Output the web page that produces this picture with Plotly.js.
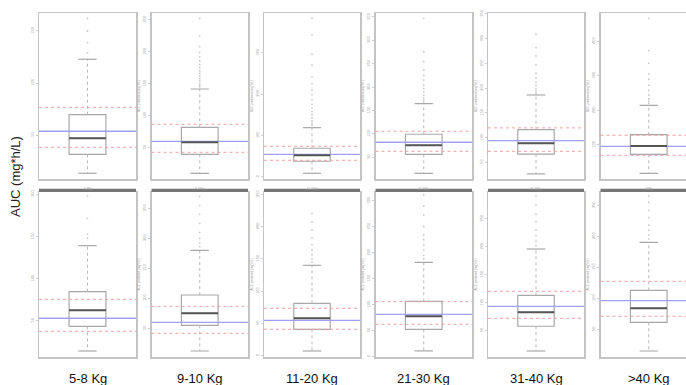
<!DOCTYPE html>
<html>
<head>
<meta charset="utf-8">
<script src="https://cdn.plot.ly/plotly-3.0.1.min.js"></script>
<style>
html,body{margin:0;padding:0;overflow:hidden;background:#fff;}
#chart{width:700px;height:385px;}
</style>
</head>
<body>
<div id="chart"></div>
<script>
// Weight groups (columns)
const groups = ['5-8 Kg', '9-10 Kg', '11-20 Kg', '21-30 Kg', '31-40 Kg', '>40 Kg'];
const stripText = ['5-8Kg', '9-10Kg', '11-20Kg', '21-30Kg', '31-40Kg', '>40Kg'];

// Top row box statistics (AUC, mg*h/L)
const q1Top  = [31.4, 39.7, 37.3, 56.4, 66.4, 73.1];
const medTop = [46.8, 58.4, 51.8, 75.6, 88.3, 97.1];
const q3Top  = [69.5, 81.9, 68.8, 99.2, 115.7, 129.8];
const lwTop  = [13.2, 10.0, 8.2, 15.8, 26.3, 18.2];
const uwTop  = [122.8, 141.7, 118.6, 164.5, 186.1, 214.7];
const redLoTop = [38.2, 42.8, 39.7, 62.8, 71.9, 70.2];
const redHiTop = [76.6, 86.6, 73.6, 105.6, 119.4, 128.0];
const blueTop  = [53.6, 60.0, 54.2, 82.1, 93.8, 96.2];
const outTop = [
  [129, 138.7, 150, 162],
  [145, 148, 151, 155, 158, 162, 166, 170, 175, 180, 186, 192, 199, 208, 224.5, 252],
  [125, 130, 135, 142, 150, 158, 166, 175, 186, 198, 210, 225, 242, 270, 296, 343, 383.5],
  [168, 172, 177, 183, 190, 197, 204.5, 215, 225, 236.6, 255, 275.7, 347],
  [190, 194, 199, 205.7, 212, 220, 230, 247, 265, 281.8, 309],
  [220, 226, 233, 244.5, 258, 273, 290, 305, 336, 372.5, 466]
];
const rangeTop = [[7.7, 167.3], [1.1, 260.5], [-5.6, 396], [3.6, 358.4], [15.9, 352], [1.7, 481.5]];
const dtickTop = [50, 50, 100, 50, 50, 100];

// Bottom row box statistics
const q1Bot  = [43.7, 55.0, 40.9, 52.7, 57.9, 61.3];
const medBot = [62.6, 75.0, 57.9, 77.7, 82.9, 83.9];
const q3Bot  = [84.6, 105.5, 81.1, 106.5, 113.2, 112.9];
const lwBot  = [14.5, 12.2, 7.3, 11.0, 13.7, 15.0];
const uwBot  = [139.0, 180.0, 139.9, 181.5, 195.9, 190.3];
const redLoBot = [37.8, 41.7, 40.9, 62.3, 72.1, 71.0];
const redHiBot = [75.6, 86.7, 73.4, 105.8, 120.4, 127.4];
const blueBot  = [53.2, 60.0, 54.8, 81.5, 93.6, 96.1];
const outBot = [
  [147.8, 152.5, 171.4, 197.7],
  [186, 192, 200, 210, 225, 240, 255, 270],
  [145, 150, 156, 163.6, 172, 182, 194.6, 207, 220.4],
  [188, 195, 205, 215, 225, 234, 250, 272.5, 290, 311],
  [202, 210, 220, 229.9, 245, 257.9, 275, 290.6],
  [196, 202, 210, 218, 230, 242, 255, 265]
];
const rangeBot = [[7.4, 202.5], [2.2, 277.2], [-2, 253.4], [-0.6, 316.7], [3, 297.8], [5.3, 271.5]];
const dtickBot = [50, 50, 50, 50, 50, 50];

// Layout geometry (pixels of a 700x385 canvas)
const W = 700, H = 385;
const colPx = [[39, 136], [151.5, 248], [264, 360], [375.5, 472], [488, 584], [600.5, 697]];
const topPx = [13, 179], botPx = [192, 357];
const boxW = 0.38, capW = 0.19;

const traces = [];
const shapes = [];
const annotations = [];
const layout = {
  width: W, height: H,
  margin: {l: 0, r: 0, t: 0, b: 0},
  paper_bgcolor: '#fff', plot_bgcolor: '#fff',
  showlegend: false,
  font: {family: 'Liberation Sans, Arial, sans-serif'}
};

function addPanel(idx, row, col) {
  const n = idx === 1 ? '' : String(idx);
  const xa = 'x' + n, ya = 'y' + n;
  const top = row === 0;
  const q1 = top ? q1Top : q1Bot, med = top ? medTop : medBot, q3 = top ? q3Top : q3Bot;
  const lw = top ? lwTop : lwBot, uw = top ? uwTop : uwBot;
  const rlo = top ? redLoTop : redLoBot, rhi = top ? redHiTop : redHiBot, bl = top ? blueTop : blueBot;
  const outs = top ? outTop : outBot;
  const rng = top ? rangeTop : rangeBot;
  const dt = top ? dtickTop : dtickBot;
  const ypx = top ? topPx : botPx;

  // whiskers (dotted) from box to fences
  traces.push({
    type: 'scatter', mode: 'lines', xaxis: xa, yaxis: ya,
    x: [0, 0, null, 0, 0], y: [q3[col], uw[col], null, q1[col], lw[col]],
    line: {color: '#b8b8b8', width: 1, dash: 'dot'}, hoverinfo: 'skip'
  });
  // whisker caps
  traces.push({
    type: 'scatter', mode: 'lines', xaxis: xa, yaxis: ya,
    x: [-capW / 2, capW / 2, null, -capW / 2, capW / 2],
    y: [uw[col], uw[col], null, lw[col], lw[col]],
    line: {color: '#a8a8a8', width: 1.2}, hoverinfo: 'skip'
  });
  // outliers
  traces.push({
    type: 'scatter', mode: 'markers', xaxis: xa, yaxis: ya,
    x: outs[col].map(() => 0), y: outs[col],
    marker: {size: 1.8, color: '#c8c8c8'}, hoverinfo: 'y'
  });
  // box body
  traces.push({
    type: 'box', xaxis: xa, yaxis: ya,
    x: [0], q1: [q1[col]], median: [med[col]], q3: [q3[col]],
    lowerfence: [q1[col]], upperfence: [q3[col]],
    boxpoints: false, width: boxW, whiskerwidth: 0,
    fillcolor: 'rgba(255,255,255,0)',
    line: {color: '#a8a8a8', width: 1.2}
  });

  const axKey = 'xaxis' + n, ayKey = 'yaxis' + n;
  layout[axKey] = {
    domain: [colPx[col][0] / W, colPx[col][1] / W],
    anchor: ya, range: [-0.5, 0.5],
    showticklabels: false, ticks: '', showgrid: false, zeroline: false,
    showline: true, mirror: true, linecolor: '#c4c4c4', linewidth: 1.5,
    fixedrange: true
  };
  layout[ayKey] = {
    domain: [1 - ypx[1] / H, 1 - ypx[0] / H],
    anchor: xa, range: rng[col], tick0: 0, dtick: dt[col],
    showgrid: false, zeroline: false,
    showline: true, mirror: true, linecolor: '#c4c4c4', linewidth: 1.5,
    ticks: 'outside', ticklen: 2, tickcolor: '#cfcfcf',
    tickfont: {size: 4, color: '#a0a0a0'}, tickangle: -90,
    title: col === 0 ? {text: ''} : {text: 'AUC predicted (mg*h/L)', font: {size: 3, color: '#a0a0a0'}, standoff: 2},
    fixedrange: true
  };

  // reference lines
  [rlo[col], rhi[col]].forEach(v => shapes.push({
    type: 'line', xref: xa + ' domain', x0: 0, x1: 1, yref: ya, y0: v, y1: v,
    line: {color: '#f4a0a0', width: 1, dash: 'dot'}
  }));
  shapes.push({
    type: 'line', xref: xa + ' domain', x0: 0, x1: 1, yref: ya, y0: bl[col], y1: bl[col],
    line: {color: '#a0a0f4', width: 1.3}
  });
  // dark median bar
  shapes.push({
    type: 'line', xref: xa, x0: -boxW / 2, x1: boxW / 2, yref: ya, y0: med[col], y1: med[col],
    line: {color: '#555', width: 2}
  });

  if (!top) {
    // facet strip
    shapes.push({
      type: 'rect', xref: xa + ' domain', x0: 0, x1: 1, yref: ya + ' domain', y0: 1.0, y1: 1.02,
      fillcolor: '#767676', line: {width: 0}
    });
    // group label below
    annotations.push({
      xref: xa + ' domain', x: 0.5, yref: 'paper', y: 1 - 378 / H,
      text: groups[col], showarrow: false, xanchor: 'center', yanchor: 'middle',
      font: {size: 13, color: '#111', family: 'Liberation Sans, Arial, sans-serif'}
    });
    // tiny strip text
    annotations.push({
      xref: xa + ' domain', x: 0.5, yref: 'paper', y: 1 - 188.5 / H,
      text: stripText[col], showarrow: false, xanchor: 'center', yanchor: 'middle',
      font: {size: 3, color: '#999'}
    });
  }
}

let idx = 1;
for (let row = 0; row < 2; row++) {
  for (let col = 0; col < 6; col++) {
    addPanel(idx, row, col);
    idx++;
  }
}

annotations.push({
  xref: 'paper', yref: 'paper', x: 15 / W, y: 1 - 177 / H,
  text: 'AUC (mg*h/L)', textangle: -90, showarrow: false,
  xanchor: 'center', yanchor: 'middle',
  font: {size: 13, color: '#222', family: 'Liberation Sans, Arial, sans-serif'}
});

layout.shapes = shapes;
layout.annotations = annotations;

Plotly.newPlot('chart', traces, layout, {displayModeBar: false, staticPlot: true});
</script>
</body>
</html>
